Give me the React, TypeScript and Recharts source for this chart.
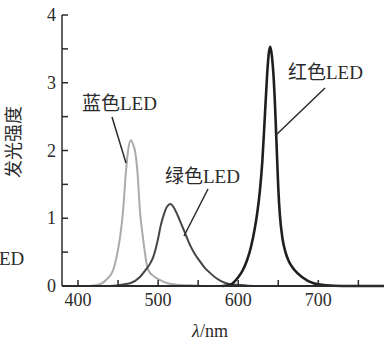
import { LineChart, Line, XAxis, YAxis } from 'recharts';

// wavelength (nm) / relative emission intensity
const blueWavelength = [415, 428, 436, 444, 448, 452.5, 456, 460, 462.5, 466, 469, 471, 474, 477.5, 481, 487.5, 495, 502, 512, 523, 540, 560, 600];
const blueIntensity = [0, 0.03, 0.1, 0.24, 0.42, 0.72, 1.08, 1.71, 2.0, 2.15, 2.08, 2.0, 1.71, 1.08, 0.72, 0.24, 0.14, 0.09, 0.04, 0.02, 0.01, 0, 0];

const greenWavelength = [440, 455, 465, 477, 484, 490, 494, 500, 503, 507, 511, 515.5, 519, 523, 527, 532, 540, 546, 552.5, 558, 565, 571, 577.5, 584, 590, 600, 612, 630];
const greenIntensity = [0, 0.02, 0.04, 0.13, 0.23, 0.33, 0.43, 0.7, 0.88, 1.05, 1.17, 1.21, 1.17, 1.08, 0.97, 0.83, 0.6, 0.47, 0.36, 0.27, 0.19, 0.13, 0.08, 0.045, 0.025, 0.015, 0.005, 0];

const redWavelength = [580, 590, 600, 606, 611, 616, 621, 624, 627, 630, 633, 636, 638, 640, 642, 644, 646, 648, 650, 652, 655, 659, 663, 670, 680, 694, 710, 730, 782];
const redIntensity = [0, 0.02, 0.13, 0.24, 0.38, 0.58, 0.87, 1.1, 1.4, 1.82, 2.45, 3.1, 3.42, 3.53, 3.4, 3.12, 2.65, 2.05, 1.45, 1.05, 0.72, 0.5, 0.37, 0.24, 0.13, 0.04, 0.01, 0, 0];

const xTicks = [400, 450, 500, 550, 600, 650, 700, 750];
const xTickLabels = [400, 500, 600, 700];
const yTicks = [0, 0.5, 1, 1.5, 2, 2.5, 3, 3.5, 4];
const yTickLabels = [0, 1, 2, 3, 4];

const blueData = blueWavelength.map((x, i) => ({ x, y: blueIntensity[i] }));
const greenData = greenWavelength.map((x, i) => ({ x, y: greenIntensity[i] }));
const redData = redWavelength.map((x, i) => ({ x, y: redIntensity[i] }));

const FONT = "'Liberation Serif', 'Noto Sans CJK SC', serif";
const INK = '#2b2b2b';
const TICK_MARGIN = 6;

function XTick({ x, y, payload }: any) {
  const axisY = y - TICK_MARGIN;
  return (
    <g>
      <line x1={x} x2={x} y1={axisY} y2={axisY - 6} stroke={INK} strokeWidth={1.5} />
      {xTickLabels.includes(payload.value) && (
        <text x={x} y={axisY + 20} textAnchor="middle" fontFamily={FONT} fontSize={18} fill={INK}>
          {payload.value}
        </text>
      )}
    </g>
  );
}

function YTick({ x, y, payload }: any) {
  const axisX = x + TICK_MARGIN;
  return (
    <g>
      <line x1={axisX} x2={axisX + 6} y1={y} y2={y} stroke={INK} strokeWidth={1.5} />
      {yTickLabels.includes(payload.value) && (
        <text x={axisX - 6} y={y + 6} textAnchor="end" fontFamily={FONT} fontSize={18} fill={INK}>
          {payload.value}
        </text>
      )}
    </g>
  );
}

export default function App() {
  return (
    <div style={{ position: 'absolute', left: 0, top: 0, width: 384, height: 344, background: '#fff', overflow: 'hidden' }}>
      <LineChart width={384} height={344} margin={{ top: 15, right: 0, bottom: 0, left: 0 }}>
        <XAxis
          dataKey="x"
          type="number"
          domain={[380, 782]}
          ticks={xTicks}
          interval={0}
          height={58}
          tickSize={0}
          tickMargin={TICK_MARGIN}
          tickLine={false}
          tick={<XTick />}
          axisLine={{ stroke: INK, strokeWidth: 2 }}
          allowDataOverflow
        />
        <YAxis
          dataKey="y"
          type="number"
          domain={[0, 4]}
          ticks={yTicks}
          interval={0}
          width={62}
          tickSize={0}
          tickMargin={TICK_MARGIN}
          tickLine={false}
          tick={<YTick />}
          axisLine={{ stroke: INK, strokeWidth: 1.5 }}
        />
        <Line data={blueData} dataKey="y" type="monotone" stroke="#ababab" strokeWidth={2} dot={false} isAnimationActive={false} />
        <Line data={greenData} dataKey="y" type="monotone" stroke="#454545" strokeWidth={2} dot={false} isAnimationActive={false} />
        <Line data={redData} dataKey="y" type="monotone" stroke="#1f1f1f" strokeWidth={2.6} dot={false} isAnimationActive={false} />
      </LineChart>
      <svg width={384} height={344} style={{ position: 'absolute', left: 0, top: 0, pointerEvents: 'none' }}>
        <g fontFamily={FONT} fontSize={19} fill={INK}>
          <text x={82} y={110}>蓝色LED</text>
          <text x={165} y={183}>绿色LED</text>
          <text x={288} y={79}>红色LED</text>
          <text x={-1} y={265}>ED</text>
          <text x={210} y={337} textAnchor="middle" fontSize={18}>
            <tspan fontStyle="italic">λ</tspan>/nm
          </text>
          <text x={20} y={142} textAnchor="middle" fontSize={18} transform="rotate(-90 20 142)">发光强度</text>
        </g>
        <g stroke={INK} strokeWidth={1.5}>
          <line x1={112} y1={117} x2={126} y2={163} />
          <line x1={208} y1={189} x2={184} y2={236} />
          <line x1={325} y1={88} x2={275} y2={136} />
        </g>
      </svg>
    </div>
  );
}
